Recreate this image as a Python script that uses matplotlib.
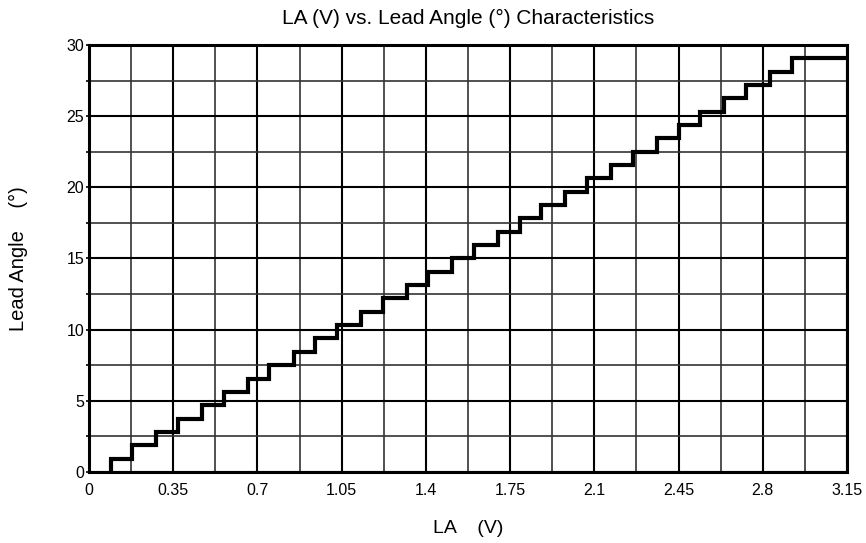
import matplotlib
matplotlib.use("Agg")
import matplotlib.pyplot as plt

plt.rcParams['font.family'] = ['Liberation Sans', 'DejaVu Sans']

# Step rise positions (V) and angle levels (deg)
rise_v = [0.09, 0.18, 0.28, 0.37, 0.47, 0.56, 0.66, 0.75, 0.85, 0.94, 1.03,
          1.13, 1.22, 1.32, 1.41, 1.51, 1.60, 1.70, 1.79, 1.88, 1.98, 2.07,
          2.17, 2.26, 2.36, 2.45, 2.54, 2.64, 2.73, 2.83, 2.92]
levels = [0.94, 1.88, 2.81, 3.75, 4.69, 5.63, 6.56, 7.50, 8.44, 9.38, 10.31,
          11.25, 12.19, 13.13, 14.06, 15.00, 15.94, 16.88, 17.81, 18.75, 19.69,
          20.63, 21.56, 22.50, 23.44, 24.38, 25.31, 26.25, 27.19, 28.13, 29.06]
end_v = 3.15

x_ticks = [0, 0.35, 0.7, 1.05, 1.4, 1.75, 2.1, 2.45, 2.8, 3.15]
x_labels = ["0", "0.35", "0.7", "1.05", "1.4", "1.75", "2.1", "2.45", "2.8", "3.15"]
y_ticks = [0, 5, 10, 15, 20, 25, 30]
x_minor = [0.175, 0.525, 0.875, 1.225, 1.575, 1.925, 2.275, 2.625, 2.975]
y_minor = [2.5, 7.5, 12.5, 17.5, 22.5, 27.5]

fig = plt.figure(figsize=(8.66, 5.43), dpi=100)
ax = fig.add_axes([0.1028, 0.1308, 0.8752, 0.7864])

xs = [rise_v[0]]
ys = [0]
for xv, lv in zip(rise_v, levels):
    xs += [xv, xv]
    ys += [ys[-1], lv]
xs.append(end_v)
ys.append(levels[-1])
ax.plot(xs, ys, color='black', lw=3.0, solid_joinstyle='miter', zorder=3)

ax.set_xlim(0, 3.15)
ax.set_ylim(0, 30)
ax.set_xticks(x_ticks)
ax.set_xticklabels(x_labels)
ax.set_yticks(y_ticks)
ax.set_xticks(x_minor, minor=True)
ax.set_yticks(y_minor, minor=True)

ax.grid(which='major', color='black', lw=1.5)
ax.grid(which='minor', color='#333333', lw=1.2)
ax.set_axisbelow(True)

for s in ax.spines.values():
    s.set_linewidth(2.2)
    s.set_color('black')

ax.tick_params(axis='x', which='both', length=0, pad=8, labelsize=11.5)
ax.tick_params(axis='y', which='both', length=2.5, width=1.2, pad=1, labelsize=11.5)

ax.set_title("LA (V) vs. Lead Angle (°) Characteristics", fontsize=15, pad=15)
ax.set_xlabel("LA    (V)", fontsize=14, labelpad=16)
ax.set_ylabel("Lead Angle    (°)", fontsize=14.5)
ax.yaxis.set_label_coords(-0.080, 0.5)

fig.savefig("out.png", dpi=100)
